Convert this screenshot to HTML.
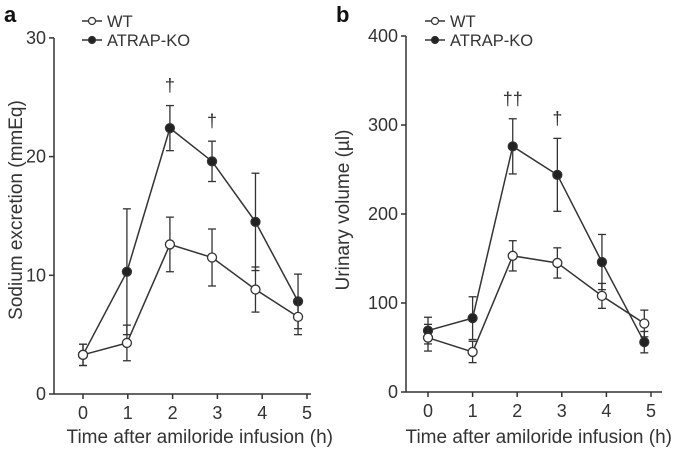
<!DOCTYPE html>
<html><head><meta charset="utf-8"><style>
body{margin:0;background:#fff}
svg{font-family:"Liberation Sans",Arial,sans-serif;color:#333}
</style></head><body>
<svg id="c" width="675" height="449" viewBox="0 0 675 449"></svg>
<script>
const times=[0,1,2,3,4,5];
const aPointTimes=[0,0.98,1.94,2.88,3.85,4.8];
const bPointTimes=[0,1,1.9,2.9,3.9,4.85];
const aTicksY=[0,10,20,30];
const bTicksY=[0,100,200,300,400];
const aWT=[3.3,4.3,12.6,11.5,8.8,6.5];
const aWTerr=[0.9,1.5,2.3,2.4,1.9,1.5];
const aKO=[3.3,10.3,22.4,19.6,14.5,7.8];
const aKOerr=[0.9,5.3,1.9,1.7,4.1,2.3];
const bWT=[61,45,153,145,108,77];
const bWTerr=[15,12,17,17,14,15];
const bKO=[69,83,276,244,146,56];
const bKOerr=[15,24,31,41,31,12];
const NS="http://www.w3.org/2000/svg";
const svg=document.getElementById('c');
function el(t,a,txt){const e=document.createElementNS(NS,t);for(const k in a)e.setAttribute(k,a[k]);if(txt!=null)e.textContent=txt;svg.appendChild(e);return e;}
const C='#333';
function panel(o){
  const sx=t=>o.x0+t*o.dx, sy=v=>o.y0-v*o.py;
  let e=el('line',{x1:o.ax,y1:o.yTop,x2:o.ax,y2:o.y0,stroke:C,'stroke-width':1.5});
  
  e=el('line',{x1:o.ax,y1:o.y0,x2:o.xEnd,y2:o.y0,stroke:C,'stroke-width':1.5});
  
  o.ticksY.forEach(v=>{
    el('line',{x1:o.ax-5,y1:sy(v),x2:o.ax,y2:sy(v),stroke:C,'stroke-width':1.5});
    e=el('text',{x:o.ax-8,y:sy(v)+6,'text-anchor':'end','font-size':18,fill:C},v);
    
  });
  times.forEach(t=>{
    el('line',{x1:sx(t),y1:o.y0,x2:sx(t),y2:o.y0+5,stroke:C,'stroke-width':1.5});
    e=el('text',{x:sx(t),y:o.y0+25,'text-anchor':'middle','font-size':18,fill:C},t);
    
  });
  e=el('text',{x:o.titleEnd,y:443,'text-anchor':'end','font-size':19,fill:C},'Time after amiloride infusion (h)');
  
  e=el('text',{x:0,y:0,'text-anchor':'middle','font-size':19,fill:C,transform:`translate(${o.ytx},${o.yty}) rotate(-90)`},o.ytitle);
  
  e=el('text',{x:o.lx,y:22,'font-size':22,'font-weight':'bold',fill:'#111'},o.id);
  
  [[o.ko,o.koe,'#222'],[o.wt,o.wte,'#fff']].forEach(([vals,errs,fill],si)=>{
    const pts=vals.map((v,i)=>sx(o.pt[i])+','+sy(v)).join(' ');
    e=el('polyline',{points:pts,fill:'none',stroke:C,'stroke-width':1.5});
    
    vals.forEach((v,i)=>{
      const x=sx(o.pt[i]);
      el('line',{x1:x,y1:sy(v-errs[i]),x2:x,y2:sy(v+errs[i]),stroke:C,'stroke-width':1.3});
      el('line',{x1:x-4,y1:sy(v+errs[i]),x2:x+4,y2:sy(v+errs[i]),stroke:C,'stroke-width':1.3});
      el('line',{x1:x-4,y1:sy(v-errs[i]),x2:x+4,y2:sy(v-errs[i]),stroke:C,'stroke-width':1.3});
      e=el('circle',{cx:x,cy:sy(v),r:4.5,fill:fill,stroke:C,'stroke-width':1.3});
      
    });
  });
  o.daggers.forEach(([i,s])=>{
    e=el('text',{x:sx(o.pt[i]),y:sy(o.ko[i]+o.koe[i])-o.dg,'text-anchor':'middle','font-size':18,fill:C},s);
    
  });
  [['WT','#fff',27],['ATRAP-KO','#222',46]].forEach(([n,f,y])=>{
    el('line',{x1:o.lgx,y1:y-6,x2:o.lgx+20,y2:y-6,stroke:C,'stroke-width':1.5});
    el('circle',{cx:o.lgx+10,cy:y-6,r:3.5,fill:f,stroke:C,'stroke-width':1.2});
    e=el('text',{x:o.lgx+25,y:y,'font-size':16.5,fill:C},n);
    
  });
}
panel({id:'a',x0:83,dx:44.8,y0:394,py:11.87,ax:54,yTop:38,xEnd:311,titleEnd:333,ticksY:aTicksY,pt:aPointTimes,
  wt:aWT,wte:aWTerr,ko:aKO,koe:aKOerr,ytx:22,yty:210,ytitle:'Sodium excretion (mmEq)',lx:4,lgx:82,dg:14,
  daggers:[[2,'†'],[3,'†']]});
panel({id:'b',x0:428,dx:44.6,y0:392,py:0.89,ax:406,yTop:36,xEnd:662,titleEnd:672,ticksY:bTicksY,pt:bPointTimes,
  wt:bWT,wte:bWTerr,ko:bKO,koe:bKOerr,ytx:349,yty:210,ytitle:'Urinary volume (µl)',lx:336,lgx:425,dg:14,
  daggers:[[2,'††'],[3,'†']]});
</script>
</body></html>
